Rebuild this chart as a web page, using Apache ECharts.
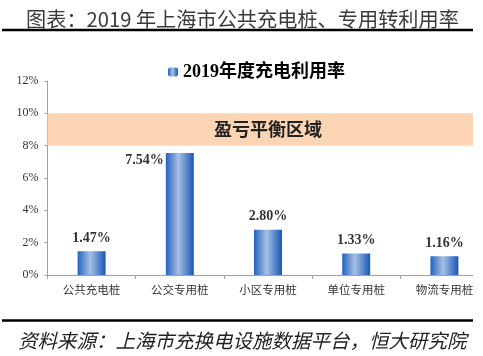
<!DOCTYPE html>
<html>
<head>
<meta charset="utf-8">
<script src="https://cdn.jsdelivr.net/npm/echarts@6/dist/echarts.min.js"></script>
<style>
html,body{margin:0;padding:0;background:#fff;}
#wrap{width:473px;height:356px;overflow:hidden;position:relative;}
#c{width:490px;height:356px;}
</style>
</head>
<body>
<div id="wrap"><div id="c"></div></div>
<script>
const titleText = '图表：2019 年上海市公共充电桩、专用转利用率';
const sourceText = '资料来源：上海市充换电设施数据平台，恒大研究院';
const seriesName = '2019年度充电利用率';
const categories = ['公共充电桩', '公交专用桩', '小区专用桩', '单位专用桩', '物流专用桩'];
const values = [1.47, 7.54, 2.80, 1.33, 1.16];
const breakEvenBand = [8, 10];
const bandLabel = '盈亏平衡区域';
const yMin = 0, yMax = 12, yStep = 2;

const barGrad = new echarts.graphic.LinearGradient(0, 0, 1, 0, [
  {offset: 0, color: '#2462c0'},
  {offset: 0.45, color: '#a6c0e4'},
  {offset: 1, color: '#1a56b8'}
]);

const chart = echarts.init(document.getElementById('c'), null, {renderer: 'canvas'});
chart.setOption({
  animation: false,
  backgroundColor: '#fff',
  title: [
    {text: titleText, left: 21, top: 4,
     textStyle: {fontFamily: "'Noto Sans CJK SC'", fontSize: 20.2, fontWeight: 'normal', color: '#3a3a3a'}},
    {text: sourceText, left: 13, top: 326,
     textStyle: {fontFamily: "'Noto Sans CJK SC'", fontSize: 19.5, fontWeight: 'normal', fontStyle: 'italic', color: '#222'}}
  ],
  graphic: [
    {type: 'line', shape: {x1: 2, y1: 30, x2: 490, y2: 30}, style: {stroke: '#000', lineWidth: 2.5}},
    {type: 'line', shape: {x1: 2, y1: 320.5, x2: 490, y2: 320.5}, style: {stroke: '#000', lineWidth: 2.5}}
  ],
  legend: {
    data: [seriesName], left: 163, top: 58,
    itemWidth: 10, itemHeight: 9, itemGap: 5,
    textStyle: {fontFamily: "'Liberation Serif','Noto Sans CJK SC'", fontSize: 18, fontWeight: 'bold', color: '#000'}
  },
  grid: {left: 47.5, top: 81, width: 441, height: 194, containLabel: false},
  xAxis: {
    type: 'category', data: categories,
    axisLine: {lineStyle: {color: '#a0a0a0', width: 1}},
    axisTick: {show: true, length: 4, lineStyle: {color: '#a0a0a0'}},
    axisLabel: {margin: 9, fontFamily: "'Noto Sans CJK SC'", fontSize: 11.5, color: '#333'}
  },
  yAxis: {
    type: 'value', min: yMin, max: yMax, interval: yStep,
    axisLine: {show: true, lineStyle: {color: '#a0a0a0', width: 1}},
    axisTick: {show: true, length: 3, lineStyle: {color: '#a0a0a0'}},
    splitLine: {show: false},
    axisLabel: {formatter: '{value}%', margin: 9, fontFamily: "'Liberation Serif'", fontSize: 12, color: '#333'}
  },
  series: [{
    name: seriesName, type: 'bar', data: values.map((v, i) => i === 1 ? {
      value: v,
      label: {position: [-2, 7], align: 'right', verticalAlign: 'middle'}
    } : v),
    barWidth: 28,
    itemStyle: {color: barGrad},
    label: {show: true, position: 'top', distance: 6,
      formatter: p => p.value.toFixed(2) + '%',
      fontFamily: "'Liberation Serif'", fontSize: 14, fontWeight: 'bold', color: '#333'},
    markArea: {
      silent: true,
      itemStyle: {color: '#fcd5b4'},
      label: {show: true, position: 'inside', formatter: bandLabel,
        fontFamily: "'Noto Sans CJK SC'", fontSize: 18, fontWeight: 'bold', color: '#222'},
      data: [[{yAxis: breakEvenBand[0]}, {yAxis: breakEvenBand[1]}]]
    }
  }]
});
</script>
</body>
</html>
